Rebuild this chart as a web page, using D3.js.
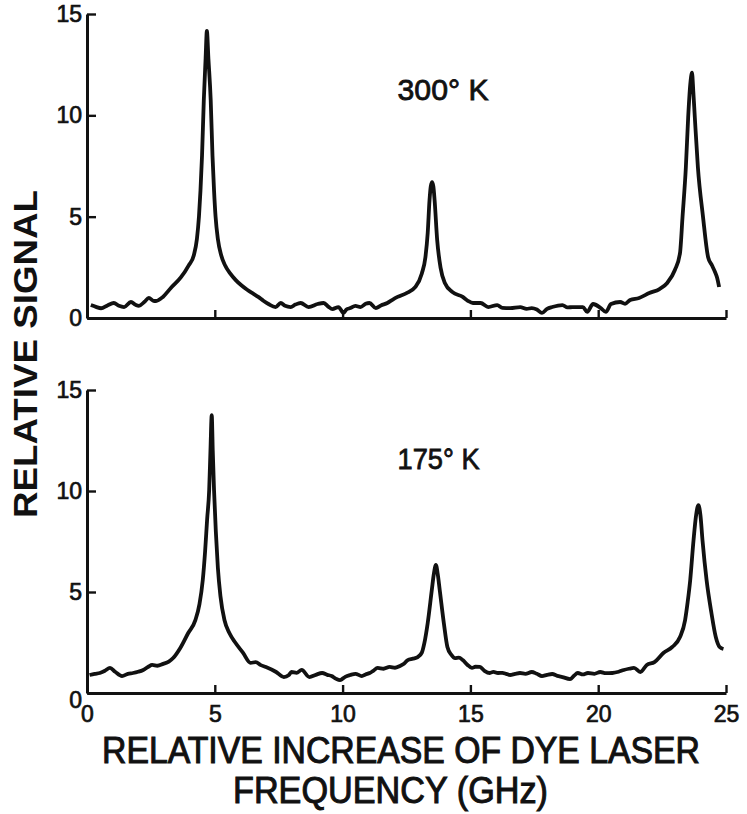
<!DOCTYPE html>
<html>
<head>
<meta charset="utf-8">
<script src="https://cdn.jsdelivr.net/npm/d3@7"></script>
<style>
  body { margin: 0; background: #fff; }
  text { font-family: "Liberation Sans", Arial, sans-serif; fill: #111; }
</style>
</head>
<body>
<svg id="chart"></svg>
<script>
// traces: [frequency GHz, relative signal]
const trace300 = [
  [0.15,0.64],[0.35,0.55],[0.55,0.48],[0.8,0.62],[1.05,0.74],[1.25,0.6],[1.45,0.54],[1.72,0.79],
  [1.9,0.65],[2.03,0.6],[2.25,0.8],[2.42,0.99],[2.6,0.85],[2.7,0.84],[2.97,1.04],[3.28,1.48],
  [3.67,2.0],[3.98,2.6],[4.18,3.1],[4.3,3.9],[4.38,5.0],[4.44,6.3],[4.5,8.0],[4.57,10.75],[4.64,12.8],
  [4.69,14.16],[4.75,12.8],[4.84,10.75],[4.91,8.0],[4.97,6.3],[5.03,5.0],[5.12,3.9],[5.25,3.1],[5.4,2.6],
  [5.6,2.2],[5.82,1.87],[6.05,1.6],[6.28,1.38],[6.5,1.2],[6.7,1.04],[6.9,0.85],[7.1,0.69],
  [7.38,0.54],[7.58,0.74],[7.75,0.6],[7.97,0.54],[8.15,0.66],[8.36,0.74],[8.67,0.54],[9.02,0.69],
  [9.26,0.74],[9.45,0.55],[9.6,0.44],[9.84,0.54],[10.04,0.25],[10.15,0.42],[10.3,0.49],[10.5,0.6],
  [10.7,0.54],[10.9,0.7],[11.05,0.74],[11.3,0.49],[11.5,0.62],[11.75,0.74],[11.95,0.9],[12.15,1.04],
  [12.5,1.23],[12.85,1.53],[13.1,2.2],[13.24,3.0],[13.33,4.2],[13.4,5.8],[13.45,6.5],[13.5,6.7],
  [13.55,6.5],[13.6,5.8],[13.7,3.85],[13.83,2.5],[14.0,1.73],[14.3,1.28],[14.7,1.04],[14.9,0.85],
  [15.1,0.74],[15.4,0.74],[15.7,0.54],[16.05,0.64],[16.25,0.5],[16.56,0.49],[16.95,0.54],[17.2,0.45],
  [17.4,0.49],[17.6,0.42],[17.8,0.25],[18.0,0.45],[18.2,0.54],[18.6,0.64],[18.8,0.52],[19.0,0.54],
  [19.4,0.54],[19.57,0.3],[19.8,0.69],[20.1,0.49],[20.3,0.3],[20.5,0.69],[20.86,0.79],[21.05,0.7],
  [21.25,0.89],[21.6,0.99],[22.0,1.23],[22.4,1.43],[22.7,1.73],[23.0,2.37],[23.2,3.2],[23.3,5.0],
  [23.43,7.45],[23.52,9.9],[23.6,11.5],[23.67,12.1],[23.72,11.2],[23.78,9.9],[23.9,7.45],[24.1,5.0],
  [24.3,3.0],[24.45,2.6],[24.57,2.27],[24.65,2.0],[24.73,1.53]
];

const trace175 = [
  [0.1,0.89],[0.3,0.95],[0.5,0.99],[0.7,1.1],[0.9,1.24],[1.1,1.05],[1.37,0.84],[1.6,0.95],
  [1.8,0.99],[2.0,1.05],[2.2,1.14],[2.4,1.3],[2.55,1.39],[2.75,1.35],[2.98,1.44],[3.2,1.55],
  [3.37,1.73],[3.65,2.23],[3.96,2.97],[4.24,3.61],[4.4,4.4],[4.53,5.6],[4.62,7.0],[4.7,8.6],
  [4.78,10.05],[4.83,12.0],[4.88,13.76],[4.92,12.0],[4.97,10.05],[5.04,8.0],[5.12,6.2],[5.22,4.8],
  [5.38,3.6],[5.57,2.97],[5.8,2.5],[6.1,2.0],[6.4,1.49],[6.6,1.53],[6.8,1.38],[7.0,1.29],
  [7.4,1.04],[7.7,0.79],[7.9,0.89],[8.0,1.04],[8.2,1.0],[8.4,1.14],[8.7,0.79],[8.95,0.9],
  [9.2,0.99],[9.4,0.9],[9.57,0.84],[9.75,0.7],[9.9,0.64],[10.1,0.8],[10.3,0.89],[10.5,0.95],
  [10.75,0.84],[10.9,0.92],[11.06,0.99],[11.2,1.1],[11.37,1.24],[11.6,1.2],[11.84,1.29],[12.05,1.25],
  [12.24,1.34],[12.4,1.45],[12.55,1.63],[12.75,1.7],[12.94,1.78],[13.1,2.0],[13.2,2.48],[13.33,3.47],
  [13.49,5.1],[13.57,5.9],[13.65,6.34],[13.72,5.9],[13.8,5.1],[13.96,3.47],[14.1,2.28],[14.25,1.9],
  [14.4,1.73],[14.55,1.75],[14.7,1.63],[14.88,1.4],[15.06,1.24],[15.2,1.3],[15.37,1.29],[15.55,1.1],
  [15.76,0.99],[15.9,1.05],[16.08,0.99],[16.25,1.0],[16.4,0.95],[16.55,0.89],[16.75,0.95],[16.94,0.99],
  [17.15,0.95],[17.4,1.04],[17.6,0.95],[17.8,0.84],[18.0,0.9],[18.2,0.94],[18.4,0.85],[18.6,0.79],
  [18.9,0.69],[19.05,0.85],[19.2,0.99],[19.4,0.92],[19.6,0.99],[19.85,0.95],[20.08,1.04],[20.3,0.98],
  [20.55,0.99],[20.8,1.05],[21.0,1.14],[21.2,1.2],[21.4,1.24],[21.65,1.04],[21.9,1.39],[22.2,1.53],
  [22.55,1.98],[22.9,2.28],[23.2,2.77],[23.4,3.61],[23.5,4.5],[23.6,5.59],[23.73,7.57],[23.83,8.8],
  [23.92,9.3],[24.0,8.8],[24.08,7.57],[24.24,5.59],[24.43,3.96],[24.6,2.77],[24.75,2.28],[24.9,2.18]
];

const xTicks = [0, 5, 10, 15, 20, 25];
const yTicks = [0, 5, 10, 15];
const panelLabels = ['300\u00b0 K', '175\u00b0 K'];
const labelPos = [[12.15, 10.75], [12.15, 11.1]];
const yTitle = 'RELATIVE SIGNAL';
const xTitle = ['RELATIVE INCREASE OF DYE LASER', 'FREQUENCY (GHz)'];

const width = 747;
const height = 814;

const svg = d3.select('#chart').attr('width', width).attr('height', height);

const x = d3.scaleLinear().domain([0, 25]).range([87, 726]);

const panels = [
  { data: trace300, y: d3.scaleLinear().domain([0, 15]).range([318, 14]), showX: false },
  { data: trace175, y: d3.scaleLinear().domain([0, 15]).range([693, 390]), showX: true }
];

const line = (y) => d3.line()
  .x(d => x(d[0]))
  .y(d => y(d[1]))
  .curve(d3.curveMonotoneX);

// lettering in the scan is heavier than a plain regular face
const inked = (sel, w) => sel.attr('stroke', '#111').attr('stroke-width', w).attr('paint-order', 'stroke');

panels.forEach((p, i) => {
  const y = p.y;
  const y0 = y(0);

  const yAxis = svg.append('g')
    .attr('transform', 'translate(' + x(0) + ',0)')
    .call(d3.axisLeft(y).tickValues(yTicks).tickSizeInner(-9).tickSizeOuter(0).tickPadding(5));
  yAxis.selectAll('text').attr('font-size', 23).style('font-family', '"Liberation Sans", Arial, sans-serif').attr('fill', '#111');
  inked(yAxis.selectAll('text'), 0.7);
  if (p.showX) yAxis.selectAll('.tick').filter(d => d === 0).select('text').attr('dy', '0.65em');

  const xAxis = svg.append('g')
    .attr('transform', 'translate(0,' + y0 + ')')
    .call(d3.axisBottom(x).tickValues(xTicks).tickSizeInner(-8).tickSizeOuter(0).tickPadding(13));
  xAxis.selectAll('text').attr('font-size', 23).style('font-family', '"Liberation Sans", Arial, sans-serif').attr('fill', '#111');
  inked(xAxis.selectAll('text'), 0.7);
  if (!p.showX) xAxis.selectAll('text').remove();

  svg.selectAll('.domain').attr('stroke', '#111').attr('stroke-width', 3);
  svg.selectAll('.tick line').attr('stroke', '#111').attr('stroke-width', 2.4);

  svg.append('path')
    .datum(p.data)
    .attr('d', line(y))
    .attr('fill', 'none')
    .attr('stroke', '#111')
    .attr('stroke-width', 3.8)
    .attr('stroke-linejoin', 'round');

  inked(svg.append('text')
    .attr('x', x(labelPos[i][0]))
    .attr('y', y(labelPos[i][1]))
    .attr('font-size', 29)
    .attr('textLength', i === 0 ? 91 : 82)
    .attr('lengthAdjust', 'spacingAndGlyphs')
    .text(panelLabels[i]), 0.8);
});

// y title
svg.append('text')
  .attr('transform', 'translate(37,354) rotate(-90)')
  .attr('text-anchor', 'middle')
  .attr('font-size', 33)
  .attr('font-weight', 'bold')
  .attr('textLength', 328)
  .attr('lengthAdjust', 'spacingAndGlyphs')
  .text(yTitle);

// x title, two lines
inked(svg.append('text')
  .attr('x', 102).attr('y', 763)
  .attr('font-size', 36)
  .attr('textLength', 598)
  .attr('lengthAdjust', 'spacingAndGlyphs')
  .text(xTitle[0]), 1);

inked(svg.append('text')
  .attr('x', 233).attr('y', 803)
  .attr('font-size', 36)
  .attr('textLength', 315)
  .attr('lengthAdjust', 'spacingAndGlyphs')
  .text(xTitle[1]), 1);
</script>
</body>
</html>
